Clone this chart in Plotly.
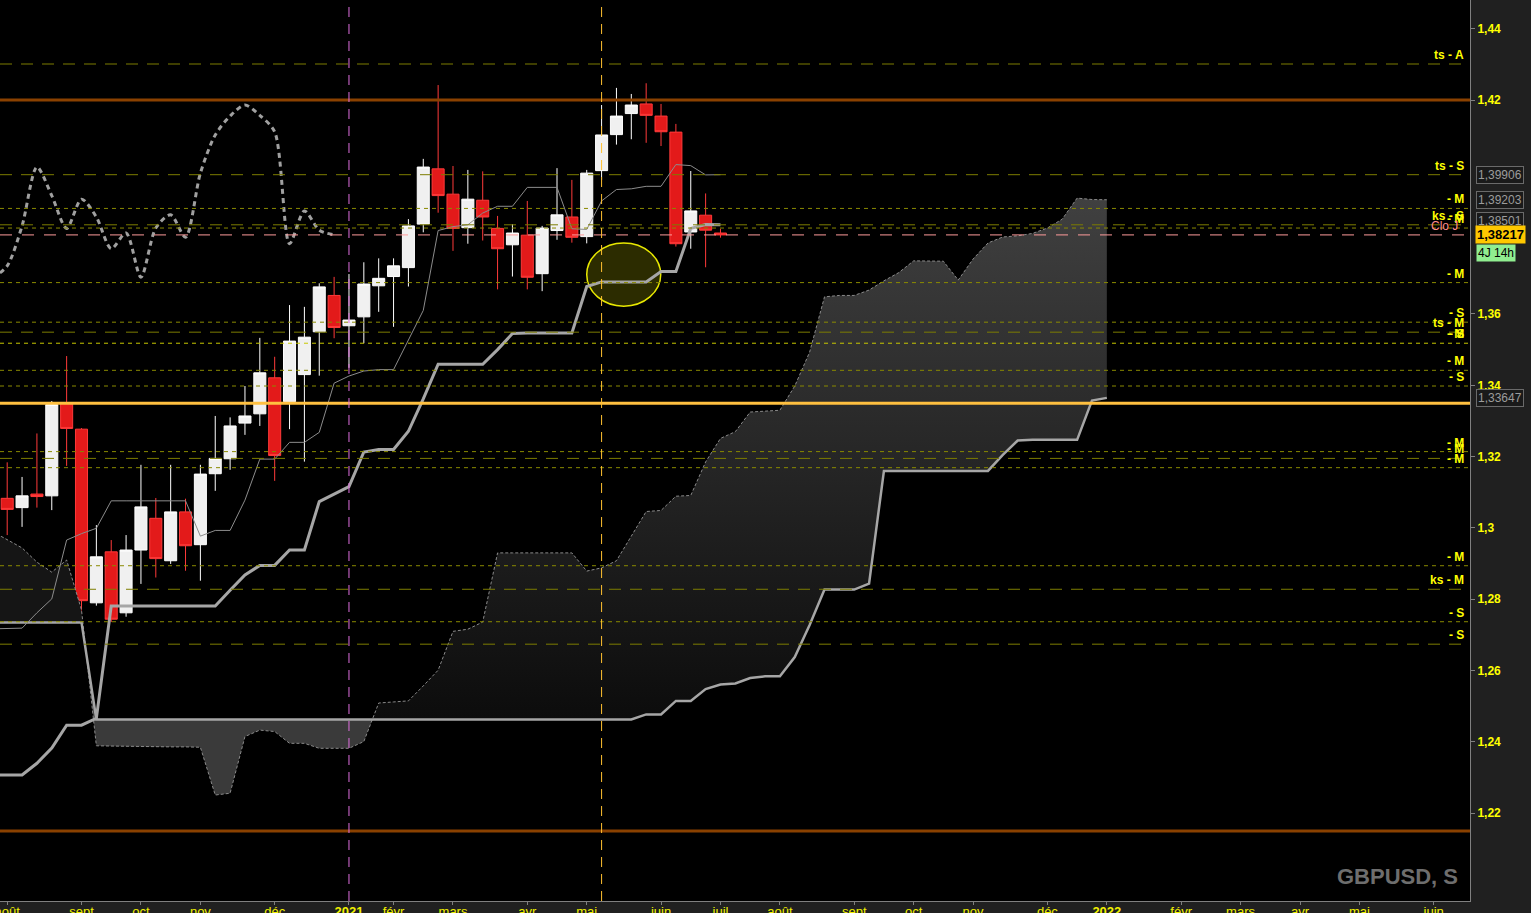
import plotly.graph_objects as go

# ---------------- data (weekly GBPUSD bars, index = week number) ----------------
open_ = [1.3083, 1.3057, 1.3095, 1.3090, 1.3350, 1.3277, 1.2790, 1.2933, 1.2762, 1.2938,
         1.3027, 1.2908, 1.3045, 1.2953, 1.3152, 1.3194, 1.3294, 1.3320, 1.3421, 1.3354,
         1.3430, 1.3550, 1.3652, 1.3567, 1.3592, 1.3679, 1.3705, 1.3730, 1.3852, 1.4007,
         1.3936, 1.3842, 1.3919, 1.3840, 1.3794, 1.3821, 1.3713, 1.3834, 1.3872, 1.3817,
         1.4002, 1.4103, 1.4162, 1.4189, 1.4155, 1.4110, 1.3830, 1.3877, 1.3827]
high = [1.3184, 1.3143, 1.3265, 1.3356, 1.3482, 1.3280, 1.3008, 1.2966, 1.2980, 1.3177,
        1.3084, 1.3177, 1.3082, 1.3177, 1.3314, 1.3310, 1.3398, 1.3533, 1.3480, 1.3625,
        1.3620, 1.3686, 1.3704, 1.3712, 1.3745, 1.3756, 1.3756, 1.3866, 1.4035, 1.4242,
        1.4015, 1.4004, 1.4000, 1.3875, 1.3852, 1.3917, 1.3847, 1.4009, 1.3976, 1.4004,
        1.4186, 1.4234, 1.4217, 1.4247, 1.4189, 1.4133, 1.4001, 1.3938, 1.3839]
low = [1.2980, 1.3003, 1.3057, 1.3050, 1.3174, 1.2762, 1.2782, 1.2736, 1.2751, 1.2843,
       1.2861, 1.2899, 1.2880, 1.2852, 1.3104, 1.3163, 1.3261, 1.3286, 1.3132, 1.3277,
       1.3186, 1.3427, 1.3532, 1.3449, 1.3518, 1.3606, 1.3564, 1.3677, 1.3829, 1.3884,
       1.3777, 1.3797, 1.3806, 1.3669, 1.3705, 1.3669, 1.3664, 1.3808, 1.3800, 1.3798,
       1.3976, 1.4075, 1.4090, 1.4080, 1.4071, 1.3789, 1.3783, 1.3731, 1.3814]
close = [1.3052, 1.3090, 1.3088, 1.3346, 1.3279, 1.2796, 1.2919, 1.2744, 1.2938, 1.3059,
         1.2914, 1.3045, 1.2950, 1.3151, 1.3195, 1.3286, 1.3314, 1.3435, 1.3203, 1.3524,
         1.3535, 1.3676, 1.3562, 1.3583, 1.3684, 1.3700, 1.3735, 1.3847, 1.4012, 1.3932,
         1.3840, 1.3922, 1.3872, 1.3783, 1.3827, 1.3703, 1.3841, 1.3878, 1.3815, 1.3995,
         1.4102, 1.4155, 1.4186, 1.4157, 1.4111, 1.3797, 1.3889, 1.3835, 1.38217]

# Ichimoku lines (first value = week -1, just left of the view)
tenkan = [1.2717, 1.2717, 1.2719, 1.2762, 1.2801, 1.2966, 1.2984, 1.2999, 1.3076, 1.3076,
          1.3076, 1.3076, 1.3076, 1.3076, 1.2977, 1.2993, 1.2993, 1.3078, 1.3193, 1.3193,
          1.3240, 1.3240, 1.3268, 1.3406, 1.3426, 1.3440, 1.3444, 1.3444, 1.3527, 1.3610,
          1.3834, 1.3845, 1.3850, 1.3883, 1.3902, 1.3902, 1.3955, 1.3955, 1.3955, 1.3839,
          1.3837, 1.3917, 1.3949, 1.3951, 1.3958, 1.3958, 1.4019, 1.4016, 1.3990, 1.39906]
kijun = [1.2307, 1.2307, 1.2307, 1.2340, 1.2383, 1.2447, 1.2447, 1.2466, 1.2781, 1.2781,
         1.2781, 1.2781, 1.2781, 1.2781, 1.2781, 1.2781, 1.2825, 1.2868, 1.2895, 1.2895,
         1.2938, 1.2938, 1.3074, 1.3095, 1.3116, 1.3213, 1.3220, 1.3220, 1.3271, 1.3362,
         1.3459, 1.3459, 1.3459, 1.3459, 1.3500, 1.3545, 1.3547, 1.3547, 1.3547, 1.3547,
         1.3677, 1.3690, 1.3690, 1.3690, 1.3690, 1.3719, 1.3719, 1.3840, 1.3851, 1.38501]
senkou_a = [1.2990, 1.2966, 1.2944, 1.2904, 1.2876, 1.2910, 1.2770, 1.2389, 1.2388, 1.2387,
            1.2386, 1.2386, 1.2386, 1.2386, 1.2385, 1.2251, 1.2256, 1.2415, 1.2433, 1.2429,
            1.2396, 1.2396, 1.2382, 1.2382, 1.2382, 1.2401, 1.2509, 1.2512, 1.2515, 1.2557,
            1.2601, 1.2710, 1.2716, 1.2736, 1.2930, 1.2930, 1.2930, 1.2930, 1.2930, 1.2930,
            1.2879, 1.2888, 1.2908, 1.2977, 1.3046, 1.3049, 1.3089, 1.3091, 1.3185, 1.3251,
            1.3270, 1.3325, 1.3328, 1.3330, 1.3398, 1.3493, 1.3648, 1.3652, 1.3652, 1.3667,
            1.3693, 1.3716, 1.3749, 1.3749, 1.3748, 1.3695, 1.3754, 1.3799, 1.3816, 1.3819,
            1.3826, 1.3841, 1.3866, 1.3925, 1.3921, 1.39203]
senkou_b = [1.2735] * 7 + [1.2463] * 37 + \
           [1.2477, 1.2477, 1.2515, 1.2515, 1.2548, 1.2561, 1.2564, 1.2579, 1.2584, 1.2584,
            1.2638, 1.2728, 1.2827, 1.2827, 1.2827, 1.2844] + [1.3160] * 8 + \
           [1.3205, 1.3245, 1.3247, 1.3247, 1.3247, 1.3247, 1.3357, 1.33647]
line_start = -1          # the indicator lines start one week before the first visible bar
chikou_shift = 26

# axis ticks
x_tick_vals = [0, 5, 9, 13, 18, 23, 26, 30, 35, 39, 44, 48, 52, 57, 61, 65, 70, 74, 79, 83, 87, 91, 96]
x_tick_text = ["août", "sept", "oct", "nov", "déc", "<b>2021</b>", "févr", "mars", "avr", "mai",
               "juin", "juil", "août", "sept", "oct", "nov", "déc", "<b>2022</b>", "févr",
               "mars", "avr", "mai", "juin"]
y_tick_vals = [1.22, 1.24, 1.26, 1.28, 1.30, 1.32, 1.34, 1.36, 1.42, 1.44]
y_tick_text = ["1,22", "1,24", "1,26", "1,28", "1,3", "1,32", "1,34", "1,36", "1,42", "1,44"]

# horizontal levels
level_values = [1.4301, 1.39906, 1.3896, 1.38501, 1.3841, 1.3688, 1.3577, 1.3549, 1.3518,
                1.3442, 1.3398, 1.3214, 1.3195, 1.3169, 1.2894, 1.2828, 1.2737, 1.2674]
level_labels = ["ts - A", "ts - S", "- M", "ks - S", "- M", "- M", "- S", "ts - M", "- M",
                "- M", "- S", "- M", "- M", "- M", "- M", "ks - M", "- S", "- S"]
level_kinds = ["long", "long", "short", "long", "short", "short", "short", "long", "bright",
               "short", "short", "short", "long", "short", "short", "long", "short", "long"]
extra_label_value = 1.3518
extra_label_text = "- S"
last_close_value = 1.38217
resistance_values = [1.42, 1.215]
support_value = 1.335
price_boxes = [(1.39906, "1,39906"), (1.39203, "1,39203"), (1.38501, "1,38501"), (1.33647, "1,33647")]
vertical_marks = [23, 40]
ellipse_x = [39.0, 43.98]
ellipse_y = [1.3622, 1.3799]

# ---------------- figure ----------------
fig = go.Figure()


def cloud_segments(xv, a, b):
    segs = []
    cx, ca, cb = [xv[0]], [a[0]], [b[0]]
    sign = a[0] >= b[0]
    for i in range(1, len(a)):
        s = a[i] >= b[i]
        if s != sign:
            d0 = a[i - 1] - b[i - 1]
            d1 = a[i] - b[i]
            t = d0 / (d0 - d1)
            xc = xv[i - 1] + t * (xv[i] - xv[i - 1])
            yc = b[i - 1] + t * (b[i] - b[i - 1])
            cx.append(xc); ca.append(yc); cb.append(yc)
            segs.append((sign, cx, ca, cb))
            cx, ca, cb = [xc], [yc], [yc]
            sign = s
        cx.append(xv[i]); ca.append(a[i]); cb.append(b[i])
    segs.append((sign, cx, ca, cb))
    return segs


x_cloud = list(range(line_start, line_start + len(senkou_a)))
segs = cloud_segments(x_cloud, senkou_a, senkou_b)
for k, (sign, sx, ys_a, ys_b) in enumerate(segs):
    fig.add_trace(go.Scatter(x=sx, y=ys_b, mode="lines", line=dict(width=0),
                             hoverinfo="skip", showlegend=False))
    if not sign:
        fill = dict(fillcolor="#3a3a3a")
    elif k == 0:
        fill = dict(fillcolor="#151515")
    else:
        fill = dict(fillgradient=dict(type="vertical",
                                      colorscale=[[0, "#0c0c0c"], [1, "#404040"]],
                                      start=1.2463, stop=1.3925))
    fig.add_trace(go.Scatter(x=sx, y=ys_a, mode="lines", line=dict(width=0),
                             fill="tonexty", hoverinfo="skip", showlegend=False, **fill))

fig.add_trace(go.Scatter(x=x_cloud, y=senkou_a, mode="lines",
                         line=dict(color="#8a8a8a", width=1, dash="3px,2px"),
                         hoverinfo="skip", showlegend=False))
fig.add_trace(go.Scatter(x=x_cloud, y=senkou_b, mode="lines",
                         line=dict(color="#a6a6a6", width=2.5),
                         hoverinfo="skip", showlegend=False))

n = len(close)
xs = list(range(n))
x_lines = list(range(line_start, line_start + len(kijun)))
fig.add_trace(go.Scatter(x=x_lines, y=kijun, mode="lines",
                         line=dict(color="#a6a6a6", width=3),
                         hoverinfo="skip", showlegend=False))
fig.add_trace(go.Scatter(x=x_lines, y=tenkan, mode="lines",
                         line=dict(color="#8c8c8c", width=1),
                         hoverinfo="skip", showlegend=False))
chikou = close[chikou_shift + line_start:]
fig.add_trace(go.Scatter(x=list(range(line_start, line_start + len(chikou))), y=chikou,
                         mode="lines",
                         line=dict(color="#a0a0a0", width=3, dash="5px,4px", shape="spline",
                                   smoothing=0.8),
                         hoverinfo="skip", showlegend=False))

fig.add_trace(go.Candlestick(
    x=xs, open=open_, high=high, low=low, close=close,
    increasing=dict(line=dict(color="#ffffff", width=1), fillcolor="#f0f0f0"),
    decreasing=dict(line=dict(color="#ff3a3a", width=1), fillcolor="#e31a1a"),
    whiskerwidth=0, showlegend=False, hoverinfo="skip"))

shapes = []
# ellipse highlight
shapes.append(dict(type="circle", xref="x", yref="y", x0=ellipse_x[0], x1=ellipse_x[1],
                   y0=ellipse_y[0], y1=ellipse_y[1], layer="below",
                   fillcolor="rgba(110,110,0,0.40)", line=dict(color="#e8e800", width=1.5)))

dash_map = {"short": ("#8a8a00", "4px,4px"), "long": ("#7d7d00", "12px,9px"),
            "bright": ("#c8c800", "4px,4px")}
for v, kind in zip(level_values, level_kinds):
    col, dsh = dash_map[kind]
    shapes.append(dict(type="line", xref="x domain", yref="y", x0=0, x1=1, y0=v, y1=v,
                       layer="above", line=dict(color=col, width=1, dash=dsh)))
shapes.append(dict(type="line", xref="x domain", yref="y", x0=0, x1=1, y0=last_close_value,
                   y1=last_close_value, layer="above",
                   line=dict(color="#ff9c9c", width=1, dash="12px,10px")))
for v in resistance_values:
    shapes.append(dict(type="line", xref="x domain", yref="y", x0=0, x1=1, y0=v, y1=v,
                       layer="above", line=dict(color="#8a4100", width=3)))
shapes.append(dict(type="line", xref="x domain", yref="y", x0=0, x1=1, y0=support_value,
                   y1=support_value, layer="above", line=dict(color="#ffc040", width=3)))
for xv, col in zip(vertical_marks, ["#e070e0", "#ffc030"]):
    shapes.append(dict(type="line", xref="x", yref="paper", x0=xv, x1=xv, y0=0, y1=1,
                       layer="above", line=dict(color=col, width=1, dash="10px,7px")))

annotations = []
lab_font = dict(family="Liberation Sans, Arial", size=12, color="#ffff00")
for v, t in zip(level_values, level_labels):
    annotations.append(dict(xref="paper", yref="y", x=1, y=v, xanchor="right", yanchor="bottom",
                            xshift=-4, yshift=0, text="<b>%s</b>" % t, showarrow=False,
                            font=lab_font))
annotations.append(dict(xref="paper", yref="y", x=1, y=extra_label_value, xanchor="right",
                        yanchor="bottom", xshift=-4, text="<b>%s</b>" % extra_label_text,
                        showarrow=False, font=lab_font))
annotations.append(dict(xref="paper", yref="y", x=1, y=last_close_value, xanchor="right",
                        yanchor="bottom", xshift=-10, text="Clo J", showarrow=False,
                        font=dict(family="Liberation Sans, Arial", size=12, color="#ff8c8c")))

box_font = dict(family="Liberation Sans, Arial", size=12, color="#9c9c9c")
for v, t in price_boxes:
    ysh = 4 if t == "1,38501" else 0
    annotations.append(dict(xref="paper", yref="y", x=1, y=v, xanchor="left", yanchor="middle",
                            xshift=6, yshift=ysh, text=t, showarrow=False, font=box_font,
                            bgcolor="#1a1a1a", bordercolor="#6a6a6a", borderwidth=1,
                            borderpad=1))
annotations.append(dict(xref="paper", yref="y", x=1, y=last_close_value, xanchor="left",
                        yanchor="middle", xshift=5, text="<b>1,38217</b>", showarrow=False,
                        font=dict(family="Liberation Sans, Arial", size=13, color="#000000"),
                        bgcolor="#ffc800", borderpad=1))
annotations.append(dict(xref="paper", yref="y", x=1, y=last_close_value, xanchor="left",
                        yanchor="middle", xshift=6, yshift=-18, text="4J 14h", showarrow=False,
                        font=dict(family="Liberation Sans, Arial", size=12, color="#000000"),
                        bgcolor="#90ee90", borderpad=1))
annotations.append(dict(xref="paper", yref="paper", x=1, y=0.027, xanchor="right",
                        yanchor="middle", xshift=-10, text="<b>GBPUSD, S</b>", showarrow=False,
                        font=dict(family="Liberation Sans, Arial", size=22, color="#6e6e6e")))

fig.update_layout(
    width=1531, height=913,
    margin=dict(l=0, r=61, t=0, b=12, pad=0, autoexpand=False),
    paper_bgcolor="#202020", plot_bgcolor="#000000",
    showlegend=False, hovermode=False, dragmode=False,
    boxgap=0.1, boxgroupgap=0.1,
    shapes=shapes, annotations=annotations,
    xaxis=dict(range=[-0.4845, 98.44], tickvals=x_tick_vals, ticktext=x_tick_text,
               showgrid=False, zeroline=False, showline=True, linecolor="#808080", linewidth=1,
               ticks="outside", ticklen=3, tickcolor="#808080", automargin=False,
               ticklabeloverflow="allow", ticklabelstandoff=-5,
               tickfont=dict(family="Liberation Sans, Arial", size=13, color="#f0f000"),
               rangeslider=dict(visible=False), fixedrange=True),
    yaxis=dict(range=[1.19538, 1.44805], side="right", tickvals=y_tick_vals,
               ticktext=["<b>%s</b>" % t for t in y_tick_text],
               showgrid=False, zeroline=False, showline=True, linecolor="#808080", linewidth=1,
               ticks="outside", ticklen=4, tickcolor="#808080", automargin=False,
               tickfont=dict(family="Liberation Sans, Arial", size=12, color="#ffff00"),
               fixedrange=True),
)

fig.write_html("out.html", config={"displayModeBar": False},
               post_script="document.body.style.margin='0';document.body.style.overflow='hidden';")
